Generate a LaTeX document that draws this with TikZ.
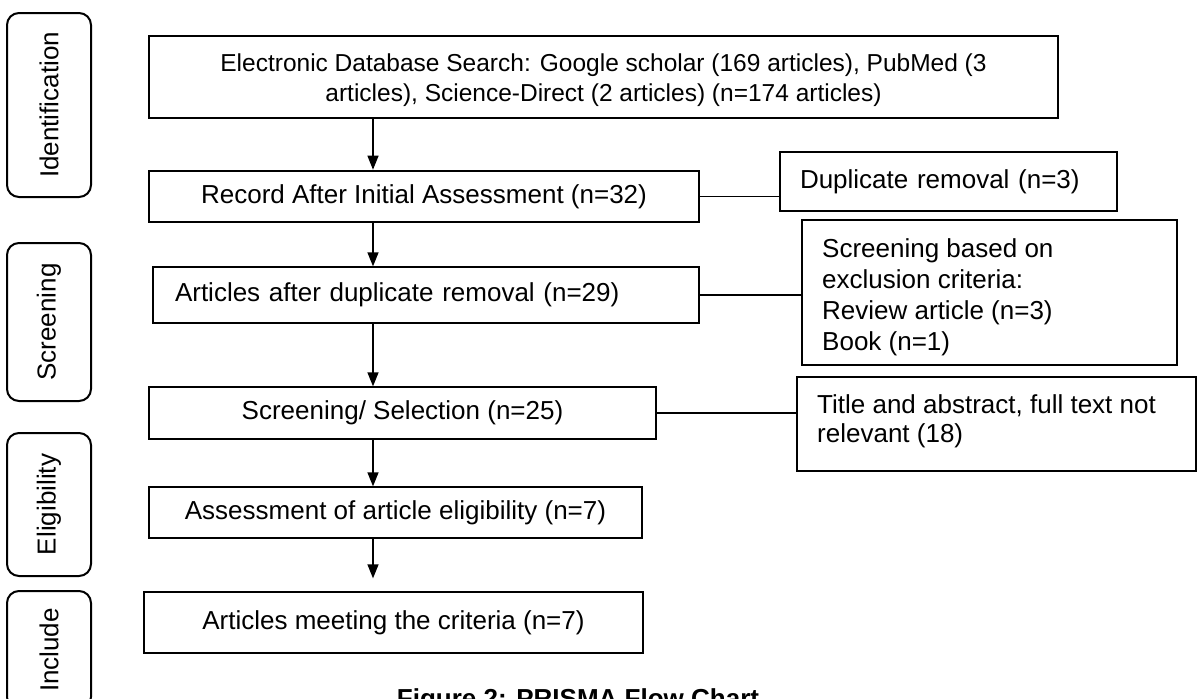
\documentclass[tikz,border=0pt]{standalone}
\usepackage{fontspec}
\setmainfont{Liberation Sans}
\usetikzlibrary{arrows.meta}
\begin{document}
\begin{tikzpicture}[x=1pt,y=-1pt,
  txt/.style={font=\fontsize{26}{30}\selectfont},
  lab/.style={draw,line width=2pt,rounded corners=12pt,rotate=90,inner sep=0pt,txt},
  thickbox/.style={draw,line width=2.6pt,inner sep=0pt,txt,align=center},
  thinbox/.style={draw,line width=1.3pt,inner sep=0pt,txt,align=center},
  arr/.style={line width=1.3pt,-{Triangle[length=14pt,width=11pt]}},
  conn/.style={line width=1.3pt}]
\clip (0,0) rectangle (1203,699);
\useasboundingbox (0,0) rectangle (1203,699);
\fill[white] (0,0) rectangle (1203,699);

% stage labels
\node[lab,minimum width=184pt,minimum height=84pt] (lid) at (49,105) {Identification};
\node[lab,minimum width=158pt,minimum height=84pt] (lsc) at (49,322) {Screening};
\node[lab,minimum width=143pt,minimum height=84pt] (lel) at (49,504.5) {Eligibility};
\node[lab,minimum width=118pt,minimum height=84pt] (lin) at (49,650) {Include};

% main column
\node[thickbox,minimum width=909pt,minimum height=82pt] (e) at (603.5,77) {};
\node[align=center,inner sep=0pt,font=\fontsize{24.5}{30}\selectfont] (et) at (603.5,80)
  {Electronic Database Search: Google scholar (169 articles), PubMed (3\\articles), Science-Direct (2 articles) (n=174 articles)};
\node[thickbox,minimum width=550pt,minimum height=51pt] (r) at (424,196.5)
  {Record After Initial Assessment (n=32)};
\node[thinbox,minimum height=56pt,text width=502pt,inner xsep=22pt,align=left] (a) at (426,295)
  {Articles after duplicate removal (n=29)};
\node[thinbox,minimum width=507pt,minimum height=52pt] (s) at (402.5,413)
  {Screening/ Selection (n=25)};
\node[thinbox,minimum width=493pt,minimum height=51pt] (as) at (395.5,512.5)
  {Assessment of article eligibility (n=7)};
\node[thinbox,minimum width=499pt,minimum height=61pt] (m) at (393.5,622.5)
  {Articles meeting the criteria (n=7)};

% side boxes
\node[thickbox,minimum height=59pt,text width=297pt,inner xsep=20pt,align=left] (d) at (948.5,181.5)
  {Duplicate removal (n=3)};
\node[thinbox,minimum width=375pt,minimum height=145pt] (sb) at (989.5,292.5) {};
\node[anchor=north west,align=left,inner sep=0pt,font=\fontsize{26}{31}\selectfont] (sbt) at (822,238)
  {Screening based on\\exclusion criteria:\\Review article (n=3)\\Book (n=1)};
\node[thinbox,minimum width=399pt,minimum height=94pt] (t) at (996.5,424) {};
\node[anchor=north west,align=left,inner sep=0pt,font=\fontsize{26}{29}\selectfont] (tt) at (817,394)
  {Title and abstract, full text not\\relevant (18)};

% arrows
\coordinate (ax) at (373,0);
\draw[arr] (e.south -| ax) -- (r.north -| ax);
\draw[arr] (r.south -| ax) -- (a.north -| ax);
\draw[arr] (a.south -| ax) -- (s.north -| ax);
\draw[arr] (s.south -| ax) -- (as.north -| ax);
\draw[arr,shorten >=13pt] (as.south -| ax) -- (m.north -| ax);

% side connectors
\draw[conn] (r.east) -- (r.east -| d.west);
\draw[conn] (a.east) -- (a.east -| sb.west);
\draw[conn] (s.east) -- (s.east -| t.west);

% caption (cut by the page edge)
\node[font=\bfseries\fontsize{26}{30}\selectfont,anchor=base,inner sep=0pt] (cap) at (578,707)
  {Figure 2: PRISMA Flow Chart};
\end{tikzpicture}
\end{document}
